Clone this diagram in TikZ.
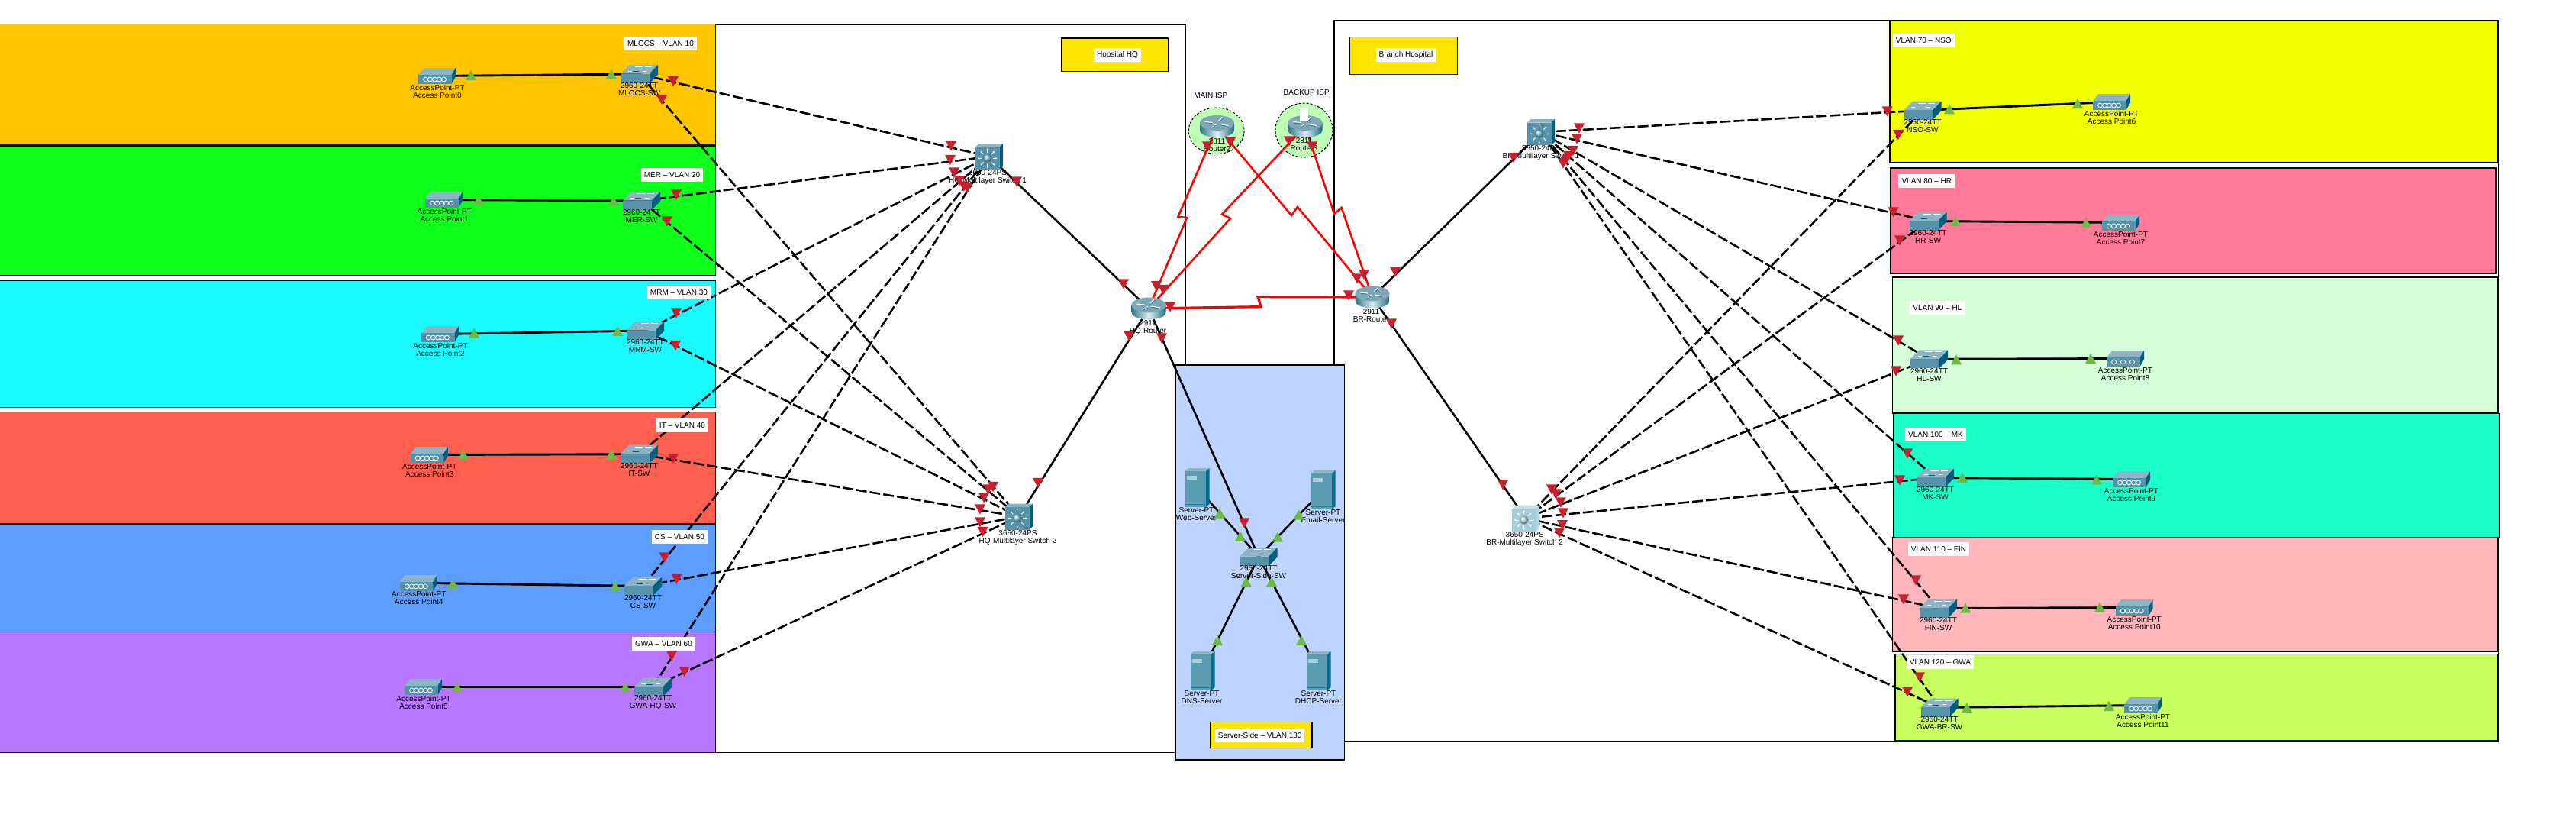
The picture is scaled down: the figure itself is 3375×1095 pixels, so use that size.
\documentclass[tikz,border=0pt]{standalone}
\usepackage{fontspec}
\setmainfont{Liberation Sans}
\usetikzlibrary{calc,arrows.meta}
\pgfdeclarelayer{back}
\pgfdeclarelayer{links}
\pgfsetlayers{back,links,main}
\definecolor{cMlocs}{HTML}{FFC600}\definecolor{cMer}{HTML}{0DFF1A}\definecolor{cMrm}{HTML}{18FAFF}
\definecolor{cIt}{HTML}{FF5F4F}\definecolor{cCs}{HTML}{5C9DFF}\definecolor{cGwa}{HTML}{B778FF}
\definecolor{cNso}{HTML}{F2FF00}\definecolor{cHr}{HTML}{FF7A99}\definecolor{cHl}{HTML}{D6FFD9}
\definecolor{cMk}{HTML}{1AFFC8}\definecolor{cFin}{HTML}{FFB6BA}\definecolor{cGwb}{HTML}{C8FF5E}
\definecolor{cSrv}{HTML}{BDD4FF}\definecolor{cTag}{HTML}{FFE600}\definecolor{cIsp}{HTML}{BFFFB5}
\definecolor{redl}{HTML}{C8202F}\definecolor{greenl}{HTML}{6DBB45}
\definecolor{icFront}{HTML}{5792AB}\definecolor{icTop}{HTML}{8CB4C4}\definecolor{icSide}{HTML}{005F7F}
\definecolor{srvFront}{HTML}{5A9DB3}\definecolor{srvTop}{HTML}{8CB8C4}\definecolor{srvSide}{HTML}{007090}
\definecolor{rtL}{HTML}{2F7488}\definecolor{rtM}{HTML}{DCEEF2}\definecolor{rtR}{HTML}{1F6D84}
\definecolor{rtTop}{HTML}{7FA6B6}
\definecolor{paleFront}{HTML}{A6CDDC}\definecolor{paleTop}{HTML}{C6DFE8}\definecolor{paleSide}{HTML}{B4D6E2}
\definecolor{mlsBall}{HTML}{8CC8DC}\definecolor{paleBall}{HTML}{C4E2EC}
\newcommand{\mlsdraw}[4]{%
  \fill[#2] (-18,-12.5) -- (-13.5,-17) -- (18,-17) -- (13.5,-12.5) -- cycle;
  \fill[#3] (13.5,-12.5) -- (18,-17) -- (18,13) -- (13.5,17) -- cycle;
  \fill[#1] (-18,-12.5) rectangle (13.5,17);
  \foreach \a in {0,45,...,315}{\draw[white,line width=.8pt,-{Stealth[length=2.5pt,width=2.5pt]}] ($(-2.2,2.2)+(\a:7.5)$) -- ($(-2.2,2.2)+(\a:13)$);}
  \shade[ball color=#4] (-2.2,2.2) circle (5.5);
}
\tikzset{
  x=1pt,y=-1pt,
  framebox/.style={draw=black,line width=1.5pt},
  vlanbox/.style={draw=black,line width=1.2pt},
  dashlink/.style={black,line width=2.6pt,dash pattern=on 14pt off 4pt},
  solidlink/.style={black,line width=2.6pt},
  aplink/.style={black,line width=2.9pt},
  wanlink/.style={red,line width=2.6pt,line join=miter},
  wanthick/.style={red,line width=3.2pt},
  devbox/.style={inner sep=0pt,outer sep=0pt,minimum width=40pt,minimum height=24pt},
  devlabel/.style={inner sep=0pt,align=center,text=black,font=\fontsize{10pt}{10pt}\selectfont},
  taglabel/.style={fill=white,inner sep=0pt,minimum height=18pt,text=black,font=\fontsize{10pt}{10pt}\selectfont},
  tagbox/.style={fill=cTag,draw=black,line width=1.3pt},
  redlight/.pic={\fill[redl] (-7,-6.6) -- (7,-6.6) -- (0,6.6) -- cycle;},
  greenlight/.pic={\fill[greenl] (-7,6.6) -- (7,6.6) -- (0,-6.6) -- cycle;},
  swpic/.pic={
    \fill[icTop] (-24.5,-0.5) -- (-13,-12) -- (24.5,-12) -- (13.5,-0.5) -- cycle;
    \fill[icSide] (13.5,-0.5) -- (24.5,-12) -- (24.5,0.5) -- (13.5,12) -- cycle;
    \fill[icFront] (-24.5,-0.5) rectangle (13.5,12);
    \draw[white,line width=.8pt] (-6,-9.5) -- (4,-9.5) (7,-9.5) -- (16,-9.5) (-15,-4) -- (-10,-4) (4,-4) -- (9,-4);
    \draw[icSide,line width=.7pt] (-9,-3.5) -- (-1,-3.5);
  },
  appic/.pic={
    \fill[icTop] (-24.5,-1.5) -- (-17,-10.5) -- (24.5,-10.5) -- (19,-1.5) -- cycle;
    \fill[icSide] (19,-1.5) -- (24.5,-10.5) -- (24.5,1) -- (19,10.5) -- cycle;
    \fill[icFront] (-24.5,-1.5) rectangle (19,10.5);
    \foreach \k in {-15,-9,-3,3,9}{\draw[white,line width=.8pt] (\k,4.5) ellipse (3 and 3);}
  },
  mlspic/.pic={\mlsdraw{icFront}{icTop}{icSide}{mlsBall}},
  mlspale/.pic={\mlsdraw{paleFront}{paleTop}{paleSide}{paleBall}},
  rtpic/.pic={
    \path[left color=rtL,right color=rtR,middle color=rtM] (-22.5,-4.5) -- (-22.5,4.5) .. controls (-22.5,17.8) and (22.5,17.8) .. (22.5,4.5) -- (22.5,-4.5) -- cycle;
    \fill[rtTop] (0,-4.5) ellipse (22.5 and 10);
    \draw[white,line width=1.1pt] (-16,-6) -- (-6,-5) (3,-3) -- (15,-1) (-6,1) -- (-1,-3) (2,-7) -- (7,-12);
    \draw[icSide,line width=.5pt] (-15,-4.8) -- (-7,-3.8) (4,-1.8) -- (14,0) (-7,2.3) -- (-2,-1.5) (3.3,-6) -- (8,-11);
  },
  srvpic/.pic={
    \fill[srvTop] (-16,-21.5) -- (-12,-25.5) -- (16,-25.5) -- (11.5,-21.5) -- cycle;
    \fill[srvSide] (11.5,-21.5) -- (16,-25.5) -- (16,21.5) -- (11.5,25.5) -- cycle;
    \fill[srvFront] (-16,-21.5) rectangle (11.5,25.5);
    \fill[srvTop!70!white] (-13.5,-15.5) rectangle (-1,-11);
    \draw[srvSide!60!srvFront,line width=.4pt] (-16,22) -- (11.5,22);
  }
}
\newcommand{\dev}[7]{%
  \node[devbox] (#1) at (#2,#3) {};
  \pic at (#1) {#4};
  \node[devlabel] (#1l) at ($(#1)+(#5,#6)$) {#7};
}
\begin{document}
\begin{tikzpicture}
\useasboundingbox (0,0) rectangle (3375,1095);
\begin{pgfonlayer}{back}
  \fill[white] (0,0) rectangle (3375,1095);
  % site frames
  \draw[framebox] (-5,32) rectangle (1553.6,985.4);
  \draw[framebox] (1748,26.3) rectangle (3273.5,971);
  % left VLAN areas
  \draw[vlanbox,fill=cMlocs] (-5,31.2) rectangle (937.5,189.4);
  \draw[vlanbox,fill=cMer] (-5,191) rectangle (937.5,361);
  \draw[vlanbox,fill=cMrm] (-5,367) rectangle (937.5,533.5);
  \draw[vlanbox,fill=cIt] (-5,539.5) rectangle (937.5,685.5);
  \draw[vlanbox,fill=cCs] (-5,687) rectangle (937.5,827.4);
  \draw[vlanbox,fill=cGwa] (-5,827.4) rectangle (937.5,985.3);
  % right VLAN areas
  \draw[vlanbox,line width=2.4pt,fill=cNso] (2476,27) rectangle (3273,213);
  \draw[vlanbox,fill=cHr] (2477,220) rectangle (3270,358.5);
  \draw[vlanbox,fill=cHl] (2479.6,363) rectangle (3273,541);
  \draw[vlanbox,fill=cMk] (2480.5,541.5) rectangle (3275,703.5);
  \draw[vlanbox,fill=cFin] (2479.6,703.5) rectangle (3273,853);
  \draw[vlanbox,fill=cGwb] (2483,856.5) rectangle (3273,969.4);
  % server area
  \draw[vlanbox,fill=cSrv] (1540,478) rectangle (1761.5,995);
  % title tags
  \draw[tagbox] (1391,50) rectangle (1530.6,93.6);
  \draw[tagbox] (1768.5,48.4) rectangle (1909.4,97.5);
  \draw[tagbox] (1585.5,945.6) rectangle (1719,979.7);
  % ISP clouds
  \draw[fill=cIsp,draw=black,line width=1pt,densely dashed] (1593.7,171.3) ellipse (36.4 and 30.3);
  \draw[fill=cIsp,draw=black,line width=1pt,densely dashed] (1708.5,170.5) ellipse (37.5 and 35.5);
\end{pgfonlayer}

% devices: access points
\dev{ap0}{572.5}{99.5}{appic}{0.5}{20}{AccessPoint-PT\\Access Point0}
\dev{ap1}{581.7}{261.5}{appic}{0.5}{20}{AccessPoint-PT\\Access Point1}
\dev{ap2}{576.5}{437.5}{appic}{0.5}{20}{AccessPoint-PT\\Access Point2}
\dev{ap3}{562.3}{595.5}{appic}{0.5}{20}{AccessPoint-PT\\Access Point3}
\dev{ap4}{548.3}{763.3}{appic}{0.5}{20}{AccessPoint-PT\\Access Point4}
\dev{ap5}{554.5}{899.5}{appic}{0.5}{20}{AccessPoint-PT\\Access Point5}
\dev{ap6}{2766.5}{133.5}{appic}{0}{20}{AccessPoint-PT\\Access Point6}
\dev{ap7}{2778.5}{291.5}{appic}{0}{20}{AccessPoint-PT\\Access Point7}
\dev{ap8}{2784.5}{469.5}{appic}{0}{20}{AccessPoint-PT\\Access Point8}
\dev{ap9}{2792.5}{627.5}{appic}{0}{20}{AccessPoint-PT\\Access Point9}
\dev{ap10}{2796.2}{795.5}{appic}{0}{20}{AccessPoint-PT\\Access Point10}
\dev{ap11}{2807.5}{923.5}{appic}{0}{20}{AccessPoint-PT\\Access Point11}
% access switches
\dev{mlocs}{837.5}{97}{swpic}{0}{20.5}{2960-24TT\\MLOCS-SW}
\dev{mer}{840.5}{263}{swpic}{0}{20.5}{2960-24TT\\MER-SW}
\dev{mrm}{845.5}{433}{swpic}{0}{20.5}{2960-24TT\\MRM-SW}
\dev{it}{837.5}{594.7}{swpic}{0}{20.5}{2960-24TT\\IT-SW}
\dev{cs}{842.5}{767.5}{swpic}{0}{20.5}{2960-24TT\\CS-SW}
\dev{gwahq}{855.5}{899.5}{swpic}{0}{20.5}{2960-24TT\\GWA-HQ-SW}
\dev{nso}{2519}{144.5}{swpic}{0}{20.5}{2960-24TT\\NSO-SW}
\dev{hr}{2526}{289.5}{swpic}{0}{20.5}{2960-24TT\\HR-SW}
\dev{hl}{2527.5}{470.3}{swpic}{0}{20.5}{2960-24TT\\HL-SW}
\dev{mk}{2535.5}{625.5}{swpic}{0}{20.5}{2960-24TT\\MK-SW}
\dev{fin}{2539.5}{796.5}{swpic}{0}{20.5}{2960-24TT\\FIN-SW}
\dev{gwabr}{2541}{926.5}{swpic}{0}{20.5}{2960-24TT\\GWA-BR-SW}
\dev{srvsw}{1649}{729}{swpic}{0}{20}{2960-24TT\\Server-Side-SW}
% multilayer switches
\dev{hqma}{1296}{205}{mlspic}{-2}{27.5}{3650-24PS\\HQ-Multilayer Switch 1}
\dev{hqmb}{1335}{676.5}{mlspic}{-1.5}{28}{3650-24PS\\HQ-Multilayer Switch 2}
\dev{brma}{2019}{173}{mlspic}{0}{27.5}{3650-24PS\\BR-Multilayer Switch 1}
\dev{brmb}{1999}{678.7}{mlspale}{-1.3}{27.7}{3650-24PS\\BR-Multilayer Switch 2}
% routers
\dev{hqr}{1505}{404}{rtpic}{-1}{24.5}{2911\\HQ-Router}
\dev{brr}{1798}{389}{rtpic}{-1.5}{24.5}{2911\\BR-Router}
\dev{rtb}{1594.5}{165.5}{rtpic}{0}{25}{2811\\Router2}
\dev{rtc}{1710}{165.5}{rtpic}{-1.5}{24}{2811\\Router3}
\fill[white] (1703,141) rectangle (1714,159);
% servers
\dev{web}{1568.5}{638.5}{srvpic}{-1}{35}{Server-PT\\Web-Server}
\dev{mail}{1733.5}{641.5}{srvpic}{0}{35}{Server-PT\\Email-Server}
\dev{dns}{1575.5}{878.5}{srvpic}{-1}{35}{Server-PT\\DNS-Server}
\dev{dhcp}{1727.5}{878.5}{srvpic}{0}{35}{Server-PT\\DHCP-Server}

\begin{pgfonlayer}{links}
  \foreach \s in {mlocs,mer,mrm,it,cs,gwahq}{
    \draw[dashlink] (\s.center) -- (hqma.center);
    \draw[dashlink] (\s.center) -- (hqmb.center);
  }
  \foreach \s in {nso,hr,hl,mk,fin,gwabr}{
    \draw[dashlink] (\s.center) -- (brma.center);
    \draw[dashlink] (\s.center) -- (brmb.center);
  }
  \foreach \a/\b in {ap0/mlocs,ap1/mer,ap2/mrm,ap3/it,ap4/cs,ap5/gwahq,ap6/nso,ap7/hr,ap8/hl,ap9/mk,ap10/fin,ap11/gwabr}{
    \draw[aplink] (\a.center) -- (\b.center);
  }
  \foreach \a/\b in {hqma/hqr,hqmb/hqr,hqr/srvsw,brma/brr,brmb/brr,web/srvsw,mail/srvsw,dns/srvsw,dhcp/srvsw}{
    \draw[solidlink] (\a.center) -- (\b.center);
  }
  \coordinate (zza) at (1543.4,284); \coordinate (zzb) at (1555,285);
  \coordinate (zzc) at (1601,280.6); \coordinate (zzd) at (1612,286);
  \coordinate (zze) at (1692,282);   \coordinate (zzf) at (1700,271);
  \coordinate (zzg) at (1748,280);   \coordinate (zzh) at (1757.6,272);
  \coordinate (zzi) at (1652,401.6); \coordinate (zzj) at (1648,388.6);
  \draw[wanlink] (rtb.center) -- (zza) -- (zzb) -- (hqr.center);
  \draw[wanlink] (rtc.center) -- (zzc) -- (zzd) -- (hqr.center);
  \draw[wanlink] (rtb.center) -- (zze) -- (zzf) -- (brr.center);
  \draw[wanlink] (rtc.center) -- (zzg) -- (zzh) -- (brr.center);
  \draw[wanthick] (hqr.center) -- (zzi) -- (zzj) -- (brr.center);
\end{pgfonlayer}

% tags
\node[taglabel,minimum width=95pt] (tmlocs) at (865.5,57) {MLOCS – VLAN 10};
\node[taglabel,minimum width=81pt] (tmer) at (880.5,229) {MER – VLAN 20};
\node[taglabel,minimum width=83pt] (tmrm) at (889.5,383) {MRM – VLAN 30};
\node[taglabel,minimum width=68pt] (tit) at (894,557) {IT – VLAN 40};
\node[taglabel,minimum width=73pt] (tcs) at (890.5,703) {CS – VLAN 50};
\node[taglabel,minimum width=83pt] (tgwa) at (869.5,843) {GWA – VLAN 60};
\node[taglabel,minimum width=81pt] (tnso) at (2520.3,53) {VLAN 70 – NSO};
\node[taglabel,minimum width=74pt] (thr) at (2524.3,237) {VLAN 80 – HR};
\node[taglabel,minimum width=73pt] (thl) at (2538.3,403) {VLAN 90 – HL};
\node[taglabel,minimum width=80pt] (tmk) at (2536,569) {VLAN 100 – MK};
\node[taglabel,minimum width=80pt] (tfin) at (2540,719) {VLAN 110 – FIN};
\node[taglabel,minimum width=88pt] (tgwb) at (2542,867) {VLAN 120 – GWA};
\node[taglabel,minimum width=62pt] (thq) at (1464,72) {Hopsital HQ};
\node[taglabel,minimum width=78pt] (tbr) at (1842,72) {Branch Hospital};
\node[taglabel,minimum width=51pt,fill=white!97!blue] (tmain) at (1586.3,125) {MAIN ISP};
\node[taglabel,minimum width=67pt,fill=white!97!blue] (tback) at (1711.7,121) {BACKUP ISP};
\node[taglabel,minimum width=116.5pt,minimum height=17.2pt] (tsrv) at (1650.7,963) {Server-Side – VLAN 130};

% link lights
\foreach \x/\y in {882/106.7,867/130.5,886/255,874/290,886/410,885/452.5,882/600.5,870.5/730,886.5/758,880/859,896.7/879.5,
  1246/191,1245/209.4,1250/226,1257/237,1263/244,1267/246.6,1332/238,
  1472/372,1479/440,1522/443,1515/374.6,1524/379.5,1533/402,
  1582/192,1612/186.6,1689/185,1719/192,
  1778/365,1787/359.5,1828/356,1767/387,1823/424,1983/206.6,
  1301/637.5,1294.6/641,1289/651.7,1284/667,1284/684,1287.6/696.5,1360/632.5,1630/685,1969/635,
  2069/168,2066/182,2061/197.5,2055/204.5,2052/209.4,2048/214,
  2472.6/146,2487/176.4,2480.5/278,2489/315,2487/446,2484/486,2499/594,2489/629,2510/760,2494/785,2515/887,2499/906,
  2033/641,2038.6/647,2044.7/658,2048/672,2047/687.6,2043/698}
  {\pic at (\x,\y) {redlight};}
\foreach \x/\y in {617/98.5,801/97,627/262,803.6/263,621/436,809/433.5,607/595,801/594.5,593/764.4,806/767,599/899.6,819/899.6,
  1598/672,1625/702,1701.5/674,1674/703,1632.6/761.5,1666/761.5,1595/838.4,1705/838.4,
  2554/142.8,2722/135.4,2562/289.4,2733/291.5,2563/470.7,2739/469.3,2571/625,2747/628,2575/796,2751/795,2577/926.5,2763/924.4}
  {\pic at (\x,\y) {greenlight};}
\end{tikzpicture}
\end{document}
